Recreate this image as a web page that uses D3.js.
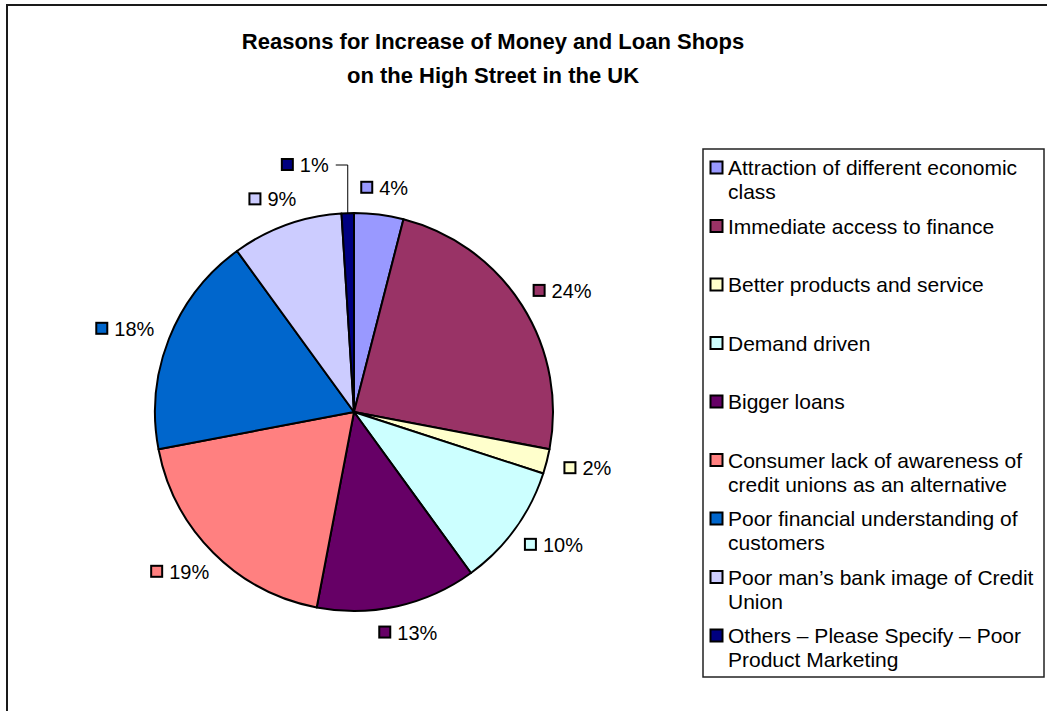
<!DOCTYPE html>
<html>
<head>
<meta charset="utf-8">
<script src="https://cdn.jsdelivr.net/npm/d3@7"></script>
<style>
  html, body { margin: 0; padding: 0; background: #fff; }
  svg { display: block; font-family: "Liberation Sans", Arial, sans-serif; }
</style>
</head>
<body>
<svg id="chart" width="1047" height="711"></svg>
<script>
// Survey categories, in slice order (clockwise from 12 o'clock)
const categories = [
  "Attraction of different economic class",
  "Immediate access to finance",
  "Better products and service",
  "Demand driven",
  "Bigger loans",
  "Consumer lack of awareness of credit unions as an alternative",
  "Poor financial understanding of customers",
  "Poor man\u2019s bank image of Credit Union",
  "Others \u2013 Please Specify \u2013 Poor Product Marketing"
];
// Share of responses (%)
const shares = [4, 24, 2, 10, 13, 19, 18, 9, 1];
const sliceColors = ["#9999FF", "#993366", "#FFFFCC", "#CCFFFF", "#660066",
                     "#FF8080", "#0066CC", "#CCCCFF", "#000080"];
const titleLines = ["Reasons for Increase of Money and Loan Shops",
                    "on the High Street in the UK"];

const svg = d3.select("#chart");
const W = 1047, H = 711;

// chart area frame
svg.append("rect")
  .attr("x", 7).attr("y", 5)
  .attr("width", W + 20).attr("height", H + 20)
  .attr("fill", "#fff").attr("stroke", "#1a1a1a").attr("stroke-width", 2);

// title
svg.append("g").selectAll("text").data(titleLines).join("text")
  .attr("x", 493).attr("y", (d, i) => 49 + i * 34)
  .attr("text-anchor", "middle")
  .attr("font-weight", "bold").attr("font-size", 22)
  .attr("fill", "#000")
  .text(d => d);

// pie
const cx = 354, cy = 412, r = 199;
const color = d3.scaleOrdinal().domain(categories).range(sliceColors);
const pie = d3.pie().sort(null).value(d => d.value).startAngle(0).endAngle(2 * Math.PI);
const rows = categories.map((c, i) => ({ cat: c, value: shares[i] }));
const arcs = pie(rows);
const arc = d3.arc().innerRadius(0).outerRadius(r);

const pg = svg.append("g").attr("transform", `translate(${cx},${cy})`);
pg.selectAll("path").data(arcs).join("path")
  .attr("d", arc)
  .attr("fill", d => color(d.data.cat))
  .attr("stroke", "#000").attr("stroke-width", 2)
  .attr("stroke-linejoin", "round");

// data labels: colour key + percentage, placed just outside each slice
const labelGap = 18, boxH = 18;
const lg = svg.append("g");
arcs.forEach((a, i) => {
  const g = lg.append("g");
  g.append("rect").attr("x", 1).attr("y", -6).attr("width", 11).attr("height", 11)
    .attr("fill", color(a.data.cat)).attr("stroke", "#000").attr("stroke-width", 2);
  const t = g.append("text").attr("x", 19).attr("y", 7)
    .attr("font-size", 20).attr("fill", "#000")
    .text(a.data.value + "%");
  const w = 19 + t.node().getComputedTextLength();
  const mid = (a.startAngle + a.endAngle) / 2;
  const s = Math.sin(mid), c = Math.cos(mid);
  const isLast = i === arcs.length - 1;
  let bx, by;
  if (isLast) {
    // the thin final slice gets a lifted label with a leader line
    const lx = cx + r * s, ly = cy - r * c;
    by = cy - r - 48;
    svg.append("polyline")
      .attr("points", `${lx},${ly} ${lx},${by} ${lx - 12},${by}`)
      .attr("fill", "none").attr("stroke", "#000").attr("stroke-width", 1);
    bx = lx - 19 - w;
  } else {
    const ax = cx + (r + labelGap) * s, ay = cy - (r + labelGap) * c;
    const mx = ax + s * w / 2, my = ay - c * boxH / 2;
    bx = mx - w / 2; by = my;
  }
  g.attr("transform", `translate(${bx},${by})`);
});

// legend
const legX = 703, legY = 149, legW = 341, legH = 528;
svg.append("rect")
  .attr("x", legX).attr("y", legY).attr("width", legW).attr("height", legH)
  .attr("fill", "#fff").attr("stroke", "#222").attr("stroke-width", 1.5);

const legStep = 58.5, maxTextW = 312;
const items = svg.append("g").selectAll("g").data(categories).join("g")
  .attr("transform", (d, i) => `translate(${legX + 7},${legY + 26 + i * legStep})`);
items.append("rect").attr("x", 0.5).attr("y", -13.5).attr("width", 12).attr("height", 12)
  .attr("fill", d => color(d)).attr("stroke", "#000").attr("stroke-width", 2);
items.append("text").attr("x", 18).attr("y", 0)
  .attr("font-size", 21).attr("fill", "#000")
  .each(function (d) {
    const text = d3.select(this);
    const words = d.split(" ");
    let line = [];
    let tspan = text.append("tspan").attr("x", 18).attr("dy", 0);
    words.forEach(word => {
      line.push(word);
      tspan.text(line.join(" "));
      if (tspan.node().getComputedTextLength() > maxTextW && line.length > 1) {
        line.pop();
        tspan.text(line.join(" "));
        line = [word];
        tspan = text.append("tspan").attr("x", 18).attr("dy", 24).text(word);
      }
    });
  });
</script>
</body>
</html>
